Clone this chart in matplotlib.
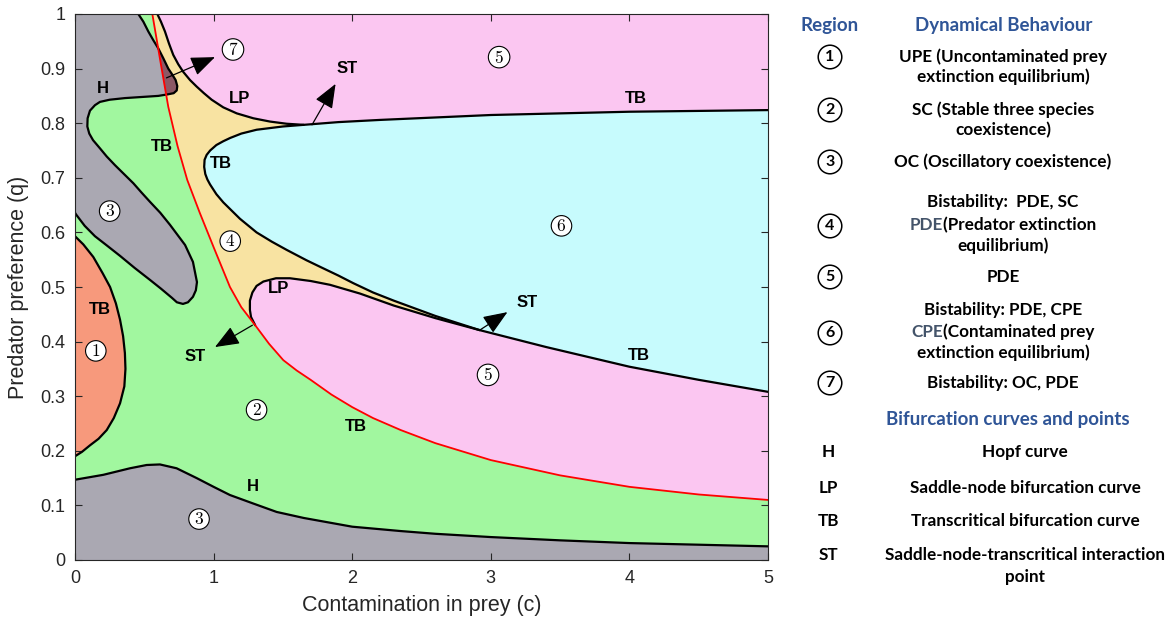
import matplotlib.pyplot as plt
from matplotlib.patches import Polygon

plt.rcParams['mathtext.fontset'] = 'cm'
plt.rcParams['font.family'] = ['Liberation Sans', 'DejaVu Sans']

# boundary curves, (c, q)
red_c = [0.558, 0.615, 0.673, 0.74, 0.81, 0.9, 1.0, 1.118, 1.2, 1.3, 1.4, 1.503, 1.6, 1.7, 1.85,
         2.0, 2.15, 2.35, 2.6, 3.0, 3.5, 4.0, 4.5, 5.0]
red_q = [1.0, 0.915, 0.83, 0.758, 0.696, 0.636, 0.573, 0.5, 0.463, 0.43, 0.396, 0.366, 0.347, 0.33, 0.303,
         0.28, 0.26, 0.238, 0.214, 0.183, 0.155, 0.134, 0.12, 0.11]

hlow_c = [0, 0.204, 0.397, 0.517, 0.613, 0.733, 0.878, 1.0, 1.118, 1.28, 1.455, 1.65, 2.0, 2.35, 2.6,
          3.0, 3.5, 4.0, 4.5, 5.0]
hlow_q = [0.147, 0.156, 0.168, 0.174, 0.175, 0.168, 0.15, 0.134, 0.119, 0.104, 0.088, 0.077, 0.061, 0.053, 0.048,
          0.042, 0.036, 0.031, 0.028, 0.025]

hup_c = [0.457, 0.493, 0.529, 0.565, 0.601, 0.637, 0.673, 0.702, 0.726, 0.738, 0.734, 0.712, 0.673, 0.601,
         0.481, 0.361, 0.25, 0.18, 0.144, 0.108, 0.091, 0.089, 0.103, 0.13, 0.18, 0.229, 0.289, 0.349,
         0.421, 0.48, 0.541, 0.615, 0.685, 0.794, 0.851, 0.88, 0.872, 0.851, 0.815, 0.779, 0.735, 0.70,
         0.62, 0.541, 0.43, 0.325, 0.23, 0.144, 0.07, 0.007, 0.0]
hup_q = [1.0, 0.986, 0.968, 0.952, 0.937, 0.919, 0.90, 0.889, 0.879, 0.868, 0.86, 0.855, 0.853, 0.85,
         0.848, 0.846, 0.843, 0.839, 0.833, 0.823, 0.809, 0.794, 0.781, 0.769, 0.754, 0.739, 0.723, 0.708,
         0.69, 0.673, 0.656, 0.636, 0.614, 0.577, 0.546, 0.509, 0.494, 0.482, 0.472, 0.469, 0.472, 0.48,
         0.497, 0.513, 0.535, 0.557, 0.576, 0.593, 0.612, 0.633, 0.636]

upe_c = [0, 0.06, 0.132, 0.2, 0.253, 0.295, 0.325, 0.347, 0.36, 0.364, 0.356, 0.325, 0.28, 0.229,
         0.17, 0.108, 0.05, 0]
upe_q = [0.593, 0.578, 0.555, 0.525, 0.5, 0.47, 0.44, 0.41, 0.379, 0.35, 0.318, 0.287, 0.26, 0.238,
         0.222, 0.21, 0.198, 0.19]

lpup_c = [0.594, 0.62, 0.649, 0.678, 0.709, 0.745, 0.781, 0.83, 0.878, 0.93, 0.986, 1.07, 1.167, 1.287,
          1.407, 1.527, 1.65]
lpup_q = [1.0, 0.986, 0.968, 0.946, 0.925, 0.908, 0.894, 0.879, 0.867, 0.855, 0.843, 0.829, 0.818, 0.809,
          0.803, 0.799, 0.797]

lplow_c = [2.92, 2.6, 2.3, 2.056, 1.84, 1.7, 1.551, 1.45, 1.359, 1.31, 1.28, 1.262, 1.262, 1.27, 1.3]
lplow_q = [0.421, 0.443, 0.466, 0.488, 0.504, 0.511, 0.516, 0.516, 0.51, 0.502, 0.49, 0.475, 0.458, 0.445, 0.43]

tb_c = [5.0, 4.0, 3.0, 2.2, 1.9, 1.65, 1.5, 1.31, 1.2, 1.12, 1.07, 1.02, 0.975, 0.95, 0.935, 0.932,
        0.94, 0.955, 0.974, 1.02, 1.07, 1.13, 1.19, 1.31, 1.42, 1.527, 1.67, 1.768, 1.9, 2.008, 2.15,
        2.3, 2.6, 2.92, 3.4, 4.0, 4.5, 5.0]
tb_q = [0.824, 0.821, 0.815, 0.806, 0.802, 0.797, 0.794, 0.788, 0.781, 0.773, 0.767, 0.76, 0.75, 0.742,
        0.733, 0.72, 0.707, 0.697, 0.688, 0.67, 0.655, 0.64, 0.625, 0.6, 0.583, 0.568, 0.549, 0.537,
        0.521, 0.507, 0.49, 0.475, 0.447, 0.421, 0.39, 0.354, 0.33, 0.308]

# region markers and curve labels
regions = [('7', 1.14, 0.935), ('5', 3.06, 0.921), ('3', 0.25, 0.639), ('4', 1.12, 0.584),
           ('6', 3.51, 0.612), ('1', 0.15, 0.383), ('5', 2.98, 0.339), ('2', 1.31, 0.275),
           ('3', 0.895, 0.075)]
curve_labels = [('H', 0.2, 0.864), ('LP', 1.19, 0.846), ('ST', 1.96, 0.901), ('TB', 4.05, 0.846),
                ('TB', 0.63, 0.758), ('TB', 1.05, 0.727), ('LP', 1.47, 0.498), ('ST', 3.26, 0.471),
                ('TB', 0.18, 0.458), ('ST', 0.87, 0.372), ('TB', 4.07, 0.374), ('TB', 2.03, 0.245),
                ('H', 1.28, 0.134)]
arrows = [((0.66, 0.883), (1.01, 0.921)), ((1.71, 0.797), (1.88, 0.872)),
          ((2.92, 0.421), (3.12, 0.454)), ((1.28, 0.43), (1.01, 0.39))]

GREEN = '#a1f79f'
GRAY = '#aaa8b2'
ORANGE = '#f7997c'
PINK = '#fbc6f1'
YELLOW = '#f8e3a2'
CYAN = '#c7fbfd'
MAROON = '#8c5865'

W, H = 1170, 628
fig = plt.figure(figsize=(W / 100, H / 100), dpi=100)
ax = fig.add_axes([75 / W, 68 / H, 693 / W, 546 / H])
ax.set_facecolor(GREEN)

ax.fill_between(hlow_c, 0, hlow_q, color=GRAY, lw=0)
ax.fill(upe_c, upe_q, color=ORANGE, lw=0)
hpoly = [(0, 1)] + list(zip(hup_c, hup_q))
ax.add_patch(Polygon(hpoly, closed=True, fc=GRAY, lw=0))

above_red = list(zip(red_c, red_q)) + [(5, 1)]
ax.add_patch(Polygon(above_red, closed=True, fc=PINK, lw=0))

yellow = list(zip(lpup_c, lpup_q)) + list(zip(lplow_c, lplow_q))
yellow += [(c, q) for c, q in zip(red_c, red_q) if c < 1.3][::-1]
ypatch = Polygon(yellow, closed=True, fc=YELLOW, lw=0)
ax.add_patch(ypatch)
ax.add_patch(Polygon(list(zip(tb_c, tb_q)), closed=True, fc=CYAN, lw=0))
mar = Polygon(hpoly, closed=True, fc=MAROON, lw=0)
ax.add_patch(mar)
mar.set_clip_path(ypatch)

kw = dict(color='k', lw=1.6, solid_joinstyle='round', solid_capstyle='round')
ax.plot(hlow_c, hlow_q, **kw)
ax.plot(hup_c, hup_q, **kw)
ax.plot(upe_c, upe_q, **kw)
ax.plot(lpup_c, lpup_q, **kw)
ax.plot(lplow_c, lplow_q, **kw)
ax.plot(tb_c, tb_q, **kw)
ax.plot(red_c, red_q, color='#ff0000', lw=1.3, solid_joinstyle='round')

for s, c, q in regions:
    ax.text(c, q, '$' + s + '$', ha='center', va='center', fontsize=12.5,
            bbox=dict(boxstyle='circle,pad=0.13', fc='white', ec='k', lw=0.8))
for s, c, q in curve_labels:
    ax.text(c, q, s, ha='center', va='center', fontsize=12, fontweight='bold')
for tail, head in arrows:
    ax.annotate('', xy=head, xytext=tail,
                arrowprops=dict(arrowstyle='-|>,head_length=0.75,head_width=0.3', lw=0.9,
                                color='k', shrinkA=0, shrinkB=0, mutation_scale=20))

ax.set_xlim(0, 5)
ax.set_ylim(0, 1)
ax.set_xticks(range(6))
ax.set_yticks([i / 10 for i in range(11)])
ax.set_yticklabels(['0'] + ['0.%d' % i for i in range(1, 10)] + ['1'])
ax.tick_params(direction='in', top=True, right=True, labelsize=13, length=5, pad=7,
               color='#262626', labelcolor='#262626')
for sp in ax.spines.values():
    sp.set_color('#262626')
    sp.set_linewidth(0.8)
ax.set_xlabel('Contamination in prey (c)', fontsize=15.5, color='#262626', labelpad=6)
ax.set_ylabel('Predator preference (q)', fontsize=15.5, color='#262626', labelpad=8)

# table on the right
BLUE = '#2f5597'
LEG = ['Lato', 'DejaVu Sans']
FS = 12.3
renderer = fig.canvas.get_renderer()


def ftext(x, y, s, **k):
    return fig.text(x / W, 1 - y / H, s, ha='center', va='center', family=LEG,
                    fontweight='bold', **k)


def two_color(x, y, parts, size):
    ts = [fig.text(0, 1 - y / H, s, color=col, ha='left', va='center', family=LEG,
                   fontweight='bold', fontsize=size) for s, col in parts]
    ws = [t.get_window_extent(renderer).width for t in ts]
    x0 = x - sum(ws) / 2
    for t, w in zip(ts, ws):
        t.set_x(x0 / W)
        x0 += w


ftext(830, 25, 'Region', color=BLUE, fontsize=13.5)
ftext(1004, 25, 'Dynamical Behaviour', color=BLUE, fontsize=13.5)

legend_rows = [('1', 57, [('UPE (Uncontaminated prey', 57), ('extinction equilibrium)', 77)]),
               ('2', 110, [('SC (Stable three species', 110), ('coexistence)', 130)]),
               ('3', 162, [('OC (Oscillatory coexistence)', 162)]),
               ('4', 226, [('Bistability:  PDE, SC', 202), (None, 225), ('equilibrium)', 246)]),
               ('5', 277, [('PDE', 277)]),
               ('6', 333, [('Bistability: PDE, CPE', 310), (None, 332), ('extinction equilibrium)', 353)]),
               ('7', 383, [('Bistability: OC, PDE', 383)])]
split_lines = {'4': [('PDE', '#44546a'), ('(Predator extinction', 'k')],
               '6': [('CPE', '#44546a'), ('(Contaminated prey', 'k')]}
for num, ys, lines in legend_rows:
    ftext(830, ys, num, fontsize=11.5,
          bbox=dict(boxstyle='circle,pad=0.3', fc='none', ec='k', lw=1.1))
    for s, y in lines:
        if s is None:
            two_color(1003, y, split_lines[num], FS)
        else:
            ftext(1003, y, s, fontsize=FS)

ftext(1008, 420, 'Bifurcation curves and points', color=BLUE, fontsize=13.5)
bif_rows = [('H', 452, ['Hopf curve']), ('LP', 488, ['Saddle-node bifurcation curve']),
            ('TB', 521, ['Transcritical bifurcation curve']),
            ('ST', 555, ['Saddle-node-transcritical interaction', 'point'])]
for sym, y, lines in bif_rows:
    ftext(828, y, sym, fontsize=FS)
    for i, s in enumerate(lines):
        ftext(1025, y + 22 * i, s, fontsize=FS)

fig.savefig('out.png', dpi=100)
